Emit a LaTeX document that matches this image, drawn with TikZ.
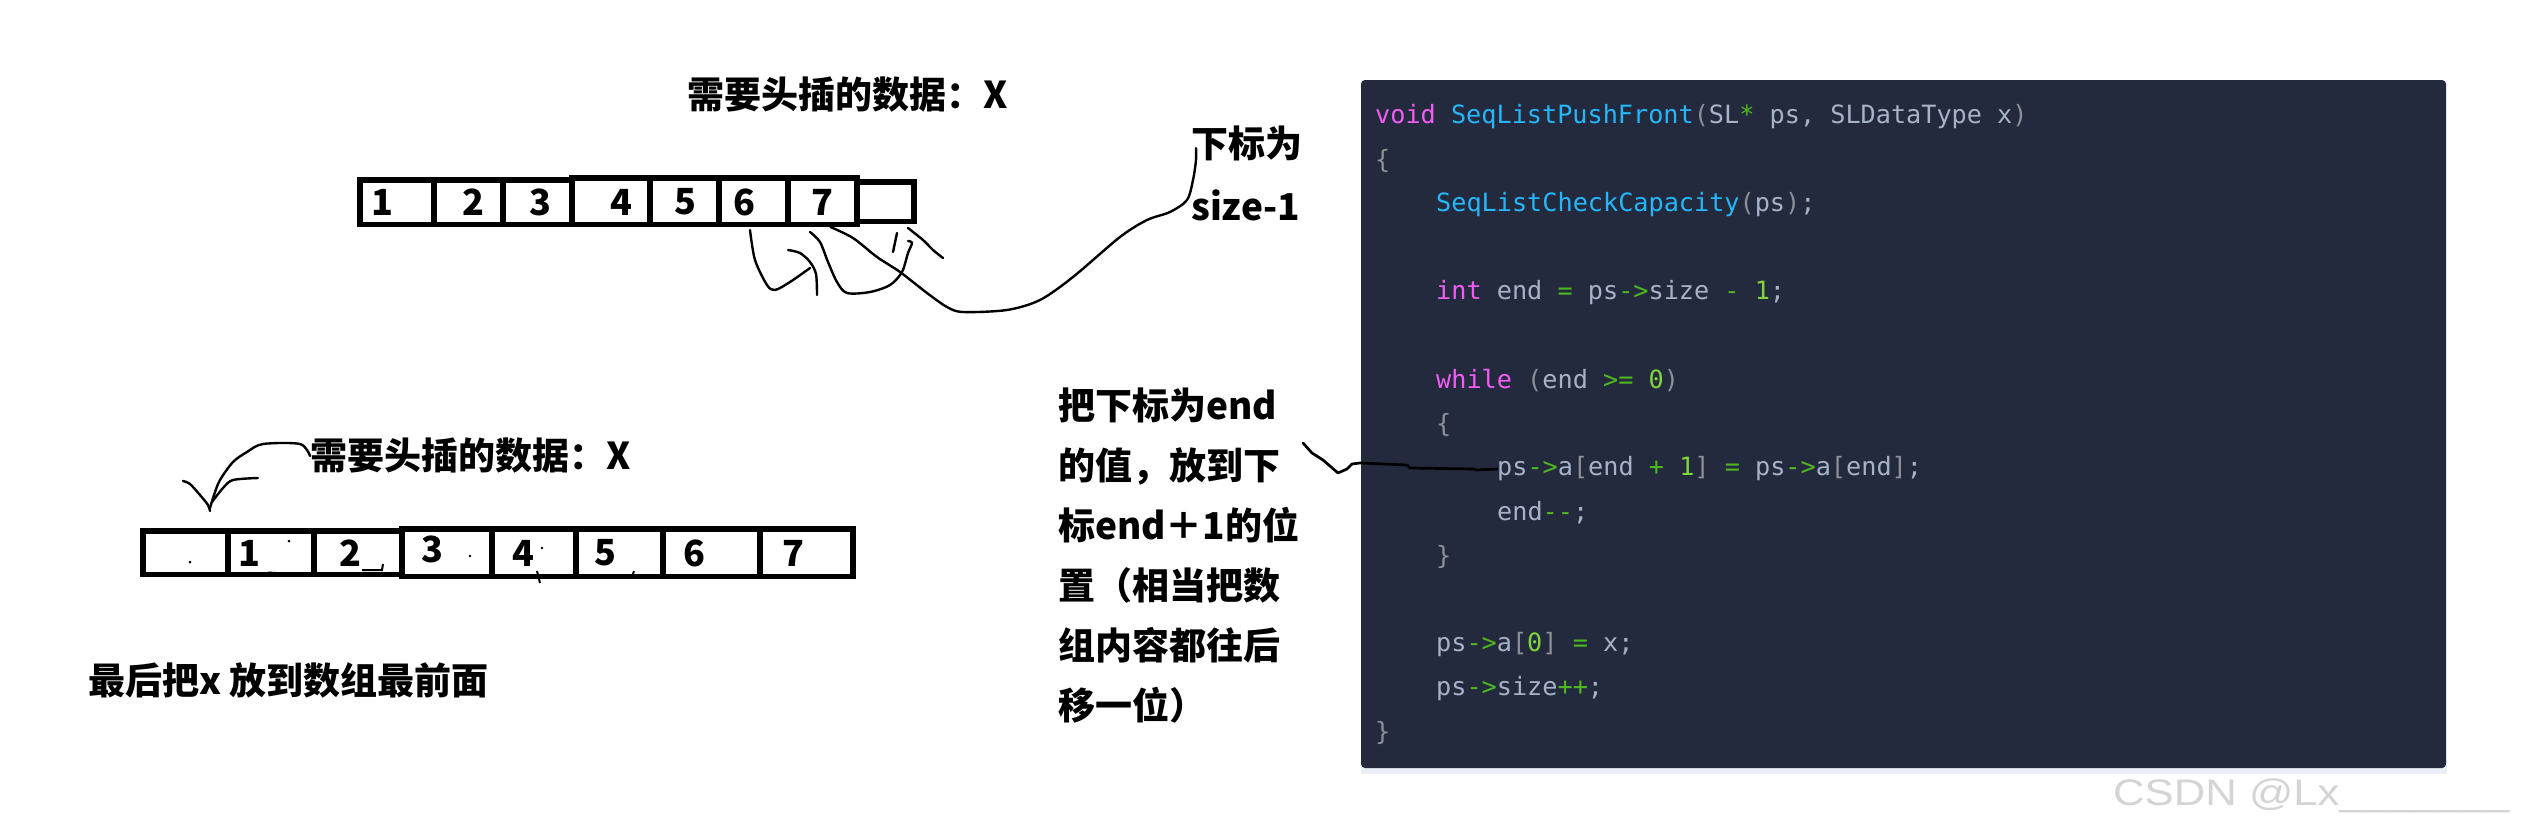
\documentclass[tikz,border=0pt]{standalone}
\usepackage{graphicx}
\usepackage{fontspec}
\usepackage{tikz}
\usetikzlibrary{positioning}
\newfontfamily\cjk{Noto Sans CJK SC}
\newfontfamily\codefont{DejaVu Sans Mono}
\newfontfamily\wmfont{Liberation Sans}
\definecolor{panel}{RGB}{35,42,61}
\definecolor{strip}{RGB}{234,239,247}
\definecolor{kwcol}{RGB}{242,92,242}
\definecolor{fncol}{RGB}{38,182,250}
\definecolor{txcol}{RGB}{166,178,200}
\definecolor{pncol}{RGB}{140,144,152}
\definecolor{opcol}{RGB}{78,184,30}
\definecolor{numcol}{RGB}{130,212,60}
\definecolor{wmcol}{RGB}{212,212,212}
\newcommand{\ckw}[1]{\textcolor{kwcol}{#1}}
\newcommand{\cfn}[1]{\textcolor{fncol}{#1}}
\newcommand{\cop}[1]{\textcolor{opcol}{#1}}
\newcommand{\cnum}[1]{\textcolor{numcol}{#1}}
\newcommand{\cpn}[1]{\textcolor{pncol}{#1}}

\begin{document}
\begin{tikzpicture}[x=1pt,y=-1pt,
  note/.style={font={\cjk\bfseries\fontsize{37}{60}\selectfont},inner sep=0pt,anchor=west},
  cell/.style={draw,line width=5.5pt,inner sep=0pt},
  digit/.style={font={\cjk\bfseries\fontsize{36}{40}\selectfont},inner sep=0pt},
  code/.style={font={\codefont\fontsize{25.2}{30}\selectfont},text=txcol,inner sep=0pt,anchor=west},
  wm/.style={font={\wmfont\fontsize{37}{40}\selectfont},text=wmcol,inner sep=0pt},
  pen/.style={line width=2.4pt,line cap=round,line join=round},
  speck/.style={line width=2pt}]

  \useasboundingbox (0,0) rectangle (2522,838);
  \fill[white] (0,0) rectangle (2522,838);

  % upper array
  \node[note] (topx) at (687,95) {需要头插的数据：X};
  \node[cell,minimum width=74pt,minimum height=44.5pt] (t1) at (397,202) {};
  \node[cell,minimum width=69pt,minimum height=44.5pt] (t2) at (468.5,202) {};
  \node[cell,minimum width=69pt,minimum height=44.5pt] (t3) at (537.5,202) {};
  \node[cell,minimum width=78pt,minimum height=46.5pt] (t4) at (611,201) {};
  \node[cell,minimum width=69pt,minimum height=46.5pt] (t5) at (684.5,201) {};
  \node[cell,minimum width=69pt,minimum height=46.5pt] (t6) at (753.5,201) {};
  \node[cell,minimum width=69pt,minimum height=46.5pt] (t7) at (822.5,201) {};
  \node[cell,minimum width=57pt,minimum height=39.5pt] (t8) at (885.5,201.5) {};
  \node[digit] (tn1) at (382,202) {1};
  \node[digit] (tn2) at (473,202) {2};
  \node[digit] (tn3) at (540,202) {3};
  \node[digit] (tn4) at (621,202) {4};
  \node[digit] (tn5) at (685,202) {5};
  \node[digit] (tn6) at (744,202) {6};
  \node[digit] (tn7) at (822,202) {7};

  \node[note] (idx) at (1191,143) {下标为};
  \node[note] (idxsz) at (1191,205) {size-1};

  % scribbles under the upper array
  \draw[pen] plot[smooth] coordinates {(750,230) (755,260) (767,285) (775,290) (790,282) (810,268)};
  \draw[pen] plot[smooth] coordinates {(788,250) (800,253) (810,262) (816,274) (817,295)};
  \draw[pen] plot[smooth] coordinates {(810,232) (820,242) (828,262) (837,282) (847,293) (870,292) (890,285) (902,272) (908,253) (912,243) (908,241)};
  \draw[pen] (897,233) -- (893,252);
  \draw[pen] plot[smooth] coordinates {(908,228) (923,240) (933,250) (943,258)};
  \draw[pen] plot[smooth] coordinates {([xshift=8pt]t7.south) (853,238) (877,257) (900,272) (927,293) (947,307) (963,312) (1007,310) (1040,300) (1073,277) (1120,237) (1147,220) (1170,212) (1187,200) (1193,180) (1196,160) (1196,148)};

  % lower array
  \node[note] (frontx) at (310,456) {需要头插的数据：X};
  \node[cell,minimum width=85pt,minimum height=43.5pt] (b1) at (185.5,552.5) {};
  \node[cell,minimum width=86pt,minimum height=43.5pt] (b2) at (271,552.5) {};
  \node[cell,minimum width=88pt,minimum height=43.5pt] (b3) at (358,552.5) {};
  \node[cell,minimum width=90pt,minimum height=47.5pt] (b4) at (447,552.5) {};
  \node[cell,minimum width=84pt,minimum height=47.5pt] (b5) at (534,552.5) {};
  \node[cell,minimum width=87pt,minimum height=47.5pt] (b6) at (619.5,552.5) {};
  \node[cell,minimum width=97pt,minimum height=47.5pt] (b7) at (711.5,552.5) {};
  \node[cell,minimum width=93pt,minimum height=47.5pt] (b8) at (806.5,552.5) {};
  \node[digit] (bn1) at (249,553) {1};
  \node[digit] (bn2) at (350,553) {2};
  \node[digit] (bn3) at (432,549) {3};
  \node[digit] (bn4) at (523,553) {4};
  \node[digit] (bn5) at (605,553) {5};
  \node[digit] (bn6) at (694,553) {6};
  \node[digit] (bn7) at (793,553) {7};

  \draw[pen] plot[smooth] coordinates {(183,481) (190,484) (200,495) (208,505) (210,511)};
  \draw[pen] plot[smooth] coordinates {(210,508) (214,495) (220,480) (233,462) (247,452) (263,444) (300,444) (frontx.west)};
  \draw[pen] plot[smooth] coordinates {(212,502) (223,488) (233,480) (258,478)};

  \fill (190,562) circle (1.5pt);
  \draw[speck] (186,573) -- (190,576);
  \fill (289,541) circle (1.5pt);
  \draw[line width=3pt] (268,573) -- (300,575);
  \draw[speck] (362,570) -- (382,570) -- (383,564);
  \fill (470,556) circle (1.3pt);
  \fill (542,548) circle (1.3pt);
  \draw[speck] (537,571) -- (540,583);
  \draw[speck] (634,571) -- (632,577);

  \node[note] (lastx) at (88,680) {最后把x 放到数组最前面};

  % explanation
  \node[note,align=left] (movenote) at (1058,556)
    {把下标为end\\的值，放到下\\标end＋1的位\\置（相当把数\\组内容都往后\\移一位）};

  % code block
  \fill[strip] (1361,760) rectangle (2447,774);
  \fill[panel,rounded corners=4pt] (1361,80) rectangle (2446,768);
  \node[code] (ln0) at (1375,117) {\ckw{void} \cfn{SeqListPushFront}\cpn{(}SL\cop{*} ps, SLDataType x\cpn{)}};
  \node[code] (ln1) at (1375,161) {\cpn{\{}};
  \node[code] (ln2) at (1436,205) {\cfn{SeqListCheckCapacity}\cpn{(}ps\cpn{)};};
  \node[code] (ln4) at (1436,293) {\ckw{int} end \cop{=} ps\cop{->}size \cop{-} \cnum{1};};
  \node[code] (ln6) at (1436,381) {\ckw{while} \cpn{(}end \cop{>=} \cnum{0}\cpn{)}};
  \node[code] (ln7) at (1436,425) {\cpn{\{}};
  \node[code] (ln8) at (1497,469) {ps\cop{->}a\cpn{[}end \cop{+} \cnum{1}\cpn{]} \cop{=} ps\cop{->}a\cpn{[}end\cpn{]};};
  \node[code] (ln9) at (1497,513) {end\cop{-\kern0pt-};};
  \node[code] (ln10) at (1436,557) {\cpn{\}}};
  \node[code] (ln12) at (1436,645) {ps\cop{->}a\cpn{[}\cnum{0}\cpn{]} \cop{=} x;};
  \node[code] (ln13) at (1436,689) {ps\cop{->}size\cop{++};};
  \node[code] (ln14) at (1375,733) {\cpn{\}}};

  \coordinate (cue) at (1303,443);
  \draw[pen,line width=2.7pt] (cue) -- (1312,453) -- (1323,460) -- (1338,473) -- (1347,469)
    -- (1352,464) -- (1360,463) -- (1407,465) -- (1410,468) -- (1473,469) -- (1477,470) -- (ln8.west);

  \node[wm,anchor=base west] (mark) at (2113,805) {\scalebox{1.18}[1]{CSDN @Lx\_\_\_\_\_\_\_}};
\end{tikzpicture}
\end{document}
